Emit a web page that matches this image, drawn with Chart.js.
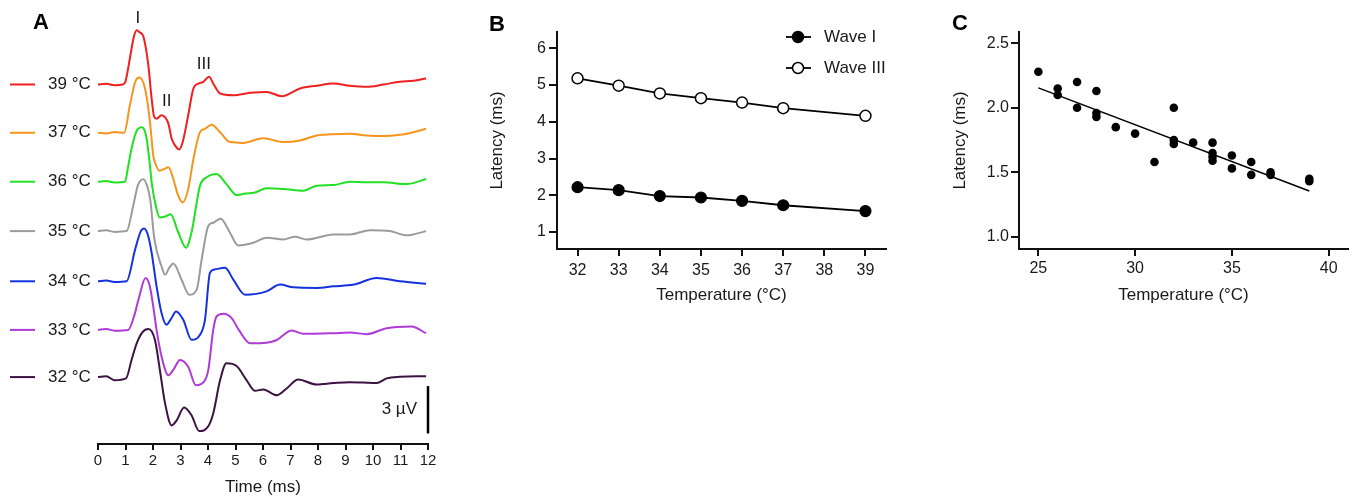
<!DOCTYPE html>
<html><head><meta charset="utf-8">
<script src="https://cdn.jsdelivr.net/npm/chart.js@4.4.1/dist/chart.umd.min.js"></script>
<style>
html,body{margin:0;padding:0;background:#fff;}
#wrap{position:relative;width:1355px;height:502px;overflow:hidden;background:#fff;}
canvas{position:absolute;top:0;}
</style></head><body>
<div id="wrap">
<canvas id="cA" width="450" height="502" style="left:0px"></canvas>
<canvas id="cB" width="440" height="310" style="left:480px"></canvas>
<canvas id="cC" width="415" height="310" style="left:940px"></canvas>
</div>
<script>
// ---------------- Panel A data (ABR traces, µV relative to own baseline) ----------------
const traceTemps = ['39 °C','37 °C','36 °C','35 °C','34 °C','33 °C','32 °C'];
const traceOffsets = [18.54, 15.48, 12.38, 9.25, 6.07, 2.99, 0]; // vertical stacking (µV)
const timeTicks = [0,1,2,3,4,5,6,7,8,9,10,11,12];

const t39 = [0,0.3,0.6,0.9,1.0,1.16,1.3,1.41,1.52,1.65,1.83,1.95,2.04,2.13,2.31,2.45,2.56,2.68,2.8,2.95,3.08,3.28,3.47,3.65,3.83,4.04,4.19,4.44,4.92,5.53,6.13,6.68,7.35,7.95,8.56,9.16,9.77,10.38,10.98,11.47,11.93];
const v39 = [0,0.05,-0.05,0,0.2,1.66,3.0,3.44,3.3,3.04,1.23,-0.89,-2.04,-2.17,-1.95,-2.1,-2.48,-3.44,-3.86,-4.12,-3.65,-1.95,-0.25,0.06,0.17,0.49,0.06,-0.57,-0.68,-0.53,-0.47,-0.74,-0.25,-0.08,0.06,-0.08,-0.15,0,0.17,0.23,0.38];

const t37 = [0,0.3,0.6,0.95,1.16,1.35,1.5,1.71,1.89,2.01,2.07,2.23,2.4,2.56,2.74,2.9,3.08,3.28,3.47,3.71,3.89,4.13,4.44,4.8,5.28,6.01,6.74,7.35,7.95,8.5,9.16,9.77,10.38,10.98,11.47,11.93];
const v37 = [0,-0.05,0.05,0,1.74,3.2,3.5,2.8,0.68,-1.45,-1.87,-2.4,-2.3,-2.19,-2.93,-3.9,-4.42,-3.57,-1.66,0.04,0.25,0.51,0.04,-0.59,-0.64,-0.34,-0.59,-0.49,-0.17,-0.1,-0.06,-0.17,-0.21,-0.13,0.04,0.25];

const t36 = [0,0.3,0.6,0.98,1.1,1.22,1.4,1.59,1.75,1.89,1.95,2.13,2.25,2.45,2.64,2.92,3.2,3.4,3.71,3.95,4.31,4.67,5.04,5.35,5.71,6.13,6.74,7.47,7.95,8.56,9.16,9.77,10.38,11.22,11.93];
const v36 = [0,0.05,-0.05,0,1.0,2.1,3.2,3.45,2.9,1.02,-0.04,-1.74,-2.27,-2.2,-2.06,-3.22,-4.18,-3.22,-0.25,0.28,0.49,-0.15,-0.85,-0.75,-0.68,-0.42,-0.46,-0.57,-0.25,-0.21,0,-0.04,-0.04,-0.15,0.17];

const t35 = [0,0.3,0.6,1.04,1.28,1.45,1.65,1.78,1.9,2.05,2.31,2.44,2.6,2.74,3.04,3.32,3.59,3.77,4.01,4.19,4.46,4.8,5.1,5.65,6.13,6.74,7.16,7.59,8.56,9.16,9.89,10.62,11.22,11.93];
const v35 = [0,0.05,-0.05,0,1.6,2.9,3.29,2.9,2.0,-0.5,-2.23,-2.76,-2.3,-2.06,-3.08,-4.03,-3.71,-1.8,0.32,0.53,0.79,-0.1,-0.91,-0.74,-0.42,-0.53,-0.36,-0.53,-0.21,-0.21,0.06,0,-0.27,0];

const t34 = [0,0.3,0.6,1.04,1.35,1.55,1.68,1.82,1.95,2.13,2.31,2.49,2.65,2.84,3.1,3.4,3.71,3.89,4.07,4.25,4.62,4.92,5.35,6.13,6.62,7.1,7.95,8.56,9.3,10.13,10.98,11.93];
const v34 = [0,0.05,-0.05,0,2.02,3.15,3.34,2.9,1.81,-0.32,-2.01,-2.76,-2.4,-1.91,-2.44,-3.71,-3.39,-2.44,0.53,0.75,0.85,0.11,-0.85,-0.64,-0.21,-0.38,-0.42,-0.32,-0.21,0.21,0,-0.15];

const t33 = [0,0.3,0.6,1.1,1.3,1.47,1.73,1.88,2.01,2.13,2.3,2.56,2.75,2.98,3.28,3.56,3.85,4.01,4.19,4.31,4.56,4.86,5.12,5.53,6.13,6.5,7.04,7.47,8.56,9.16,9.77,10.5,11.4,11.93];
const v33 = [0,0.05,-0.05,0,0.8,1.91,3.29,2.8,1.48,0,-1.6,-2.87,-2.5,-1.91,-2.34,-3.5,-3.29,-2.55,0,0.85,1.02,0.75,0,-0.85,-0.81,-0.64,-0.04,-0.25,-0.21,-0.17,-0.27,0.11,0.21,-0.21];

const t32 = [0,0.3,0.6,1.02,1.22,1.41,1.62,1.83,2.07,2.25,2.44,2.68,2.86,3.13,3.4,3.68,4.01,4.19,4.44,4.67,5.04,5.4,5.71,6.01,6.5,6.86,7.28,7.95,8.56,9.16,10.13,10.5,10.98,11.93];
const v32 = [0,0.05,-0.2,-0.08,1.08,2.15,2.85,3.04,2.36,0.45,-1.68,-3.06,-2.74,-1.93,-2.42,-3.42,-3.12,-2.31,-0.19,0.87,0.7,-0.19,-0.87,-0.78,-1.15,-0.72,-0.15,-0.47,-0.38,-0.32,-0.38,-0.08,0.02,0.06];

const waveLabelText = ['I','II','III'];
const waveLabelTime = [1.45, 2.5, 3.85];
const waveLabelLevel = [22.72, 17.45, 19.84];
const scaleBarUV = 3;
const scaleBarTop = -0.57;

// ---------------- Panel B data ----------------
const bTemps = [32,33,34,35,36,37,39];
const waveI = [2.22,2.14,1.98,1.94,1.85,1.73,1.57];
const waveIII = [5.18,4.98,4.77,4.64,4.52,4.37,4.16];
const bXTicks = [32,33,34,35,36,37,38,39];
const bYTicks = [1,2,3,4,5,6];

// ---------------- Panel C data ----------------
const cTemp = [25,26,26,27,27,28,28,28,29,30,31,32,32,32,33,34,34,34,34,35,35,36,36,37,37,39,39];
const cLatency = [2.28,2.15,2.10,2.20,2.00,2.13,1.96,1.93,1.85,1.80,1.58,2.00,1.75,1.72,1.73,1.73,1.65,1.62,1.59,1.63,1.53,1.58,1.48,1.50,1.48,1.45,1.43];
const fitTemp = [25, 39];
const fitLatency = [2.155, 1.355];
const cXTicks = [25,30,35,40];
const cYTicks = [1.0,1.5,2.0,2.5];

// ---------------- styles ----------------
const FAM = '"Liberation Sans", Arial, Helvetica, sans-serif';
const INK = '#1a1a1a';
const traceColors = ['#ee2020','#f7941d','#22e022','#9b9b9b','#1432e0','#b03ad8','#3c1242'];
const traceT = [t39,t37,t36,t35,t34,t33,t32];
const traceV = [v39,v37,v36,v35,v34,v33,v32];
Chart.defaults.font.family = FAM;
Chart.defaults.color = INK;

function fixedTicks(arr){ return s => { s.ticks = arr.map(v => ({value:v})); }; }
function letter(ctx, txt, x, y){
  ctx.save(); ctx.fillStyle='#000'; ctx.font='bold 22px '+FAM;
  ctx.textAlign='center'; ctx.textBaseline='middle'; ctx.fillText(txt,x,y); ctx.restore();
}

// ---------------- Chart A ----------------
const aPlugin = {
  id:'aLabels',
  afterDraw(chart){
    const {ctx, scales:{x,y}} = chart;
    ctx.save();
    ctx.font = '17px '+FAM; ctx.textBaseline='middle';
    traceTemps.forEach((lab,i)=>{
      const py = y.getPixelForValue(traceOffsets[i]);
      ctx.strokeStyle = traceColors[i]; ctx.lineWidth = 2;
      ctx.beginPath(); ctx.moveTo(10,py); ctx.lineTo(35,py); ctx.stroke();
      ctx.fillStyle = INK; ctx.textAlign='left';
      ctx.fillText(lab, 48, py);
    });
    ctx.textAlign='center';
    waveLabelText.forEach((w,i)=>{
      ctx.fillText(w, x.getPixelForValue(waveLabelTime[i]), y.getPixelForValue(waveLabelLevel[i]));
    });
    // scale bar
    const bx = x.getPixelForValue(12);
    const y1 = y.getPixelForValue(scaleBarTop), y2 = y.getPixelForValue(scaleBarTop - scaleBarUV);
    ctx.strokeStyle='#000'; ctx.lineWidth=2.5;
    ctx.beginPath(); ctx.moveTo(bx,y1); ctx.lineTo(bx,y2); ctx.stroke();
    ctx.textAlign='right'; ctx.fillStyle=INK;
    ctx.fillText(scaleBarUV+' µV', bx-11, (y1+y2)/2);
    ctx.restore();
    letter(ctx,'A',41,23);
  }
};

new Chart(document.getElementById('cA'), {
  type:'line',
  data:{ datasets: traceTemps.map((lab,i)=>({
    label: lab,
    data: traceT[i].map((t,k)=>({x:t, y: traceV[i][k] + traceOffsets[i]})),
    borderColor: traceColors[i], borderWidth: 2, pointRadius: 0, fill:false,
    cubicInterpolationMode: 'monotone'
  })).reverse() },
  options:{
    responsive:false, animation:false, events:[],
    layout:{padding:{left:98,right:22,top:10,bottom:0}},
    plugins:{legend:{display:false}, tooltip:{enabled:false}},
    scales:{
      x:{ type:'linear', min:0, max:12, afterBuildTicks: fixedTicks(timeTicks),
        border:{display:true,color:'#111',width:2},
        grid:{drawOnChartArea:false, drawTicks:true, tickLength:6, color:'#111', lineWidth:2},
        ticks:{color:INK, font:{size:15}, padding:2, maxRotation:0, autoSkip:false},
        title:{display:true, text:'Time (ms)', color:INK, font:{size:17}, padding:{top:0,bottom:4}},
        afterFit: s => { s.height = 58; } },
      y:{ type:'linear', display:false, min:-4.24, max:23.26 }
    }
  },
  plugins:[aPlugin]
});

// ---------------- Chart B ----------------
const bPlugin = {
  id:'bLegend',
  afterDraw(chart){
    const ctx = chart.ctx;
    ctx.save();
    const rows = [{lab:'Wave I', fill:'#000', y:37},{lab:'Wave III', fill:'#fff', y:68}];
    rows.forEach(r=>{
      ctx.strokeStyle='#000'; ctx.lineWidth=1.8;
      ctx.beginPath(); ctx.moveTo(306,r.y); ctx.lineTo(331,r.y); ctx.stroke();
      ctx.beginPath(); ctx.arc(318, r.y, 5.5, 0, Math.PI*2);
      ctx.fillStyle=r.fill; ctx.fill(); ctx.lineWidth=1.5; ctx.stroke();
      ctx.fillStyle=INK; ctx.font='17px '+FAM; ctx.textAlign='left'; ctx.textBaseline='middle';
      ctx.fillText(r.lab, 344, r.y);
    });
    ctx.restore();
    letter(ctx,'B',17,25);
  }
};

new Chart(document.getElementById('cB'), {
  type:'line',
  data:{ datasets:[
    { label:'Wave I', data: bTemps.map((t,i)=>({x:t,y:waveI[i]})), borderColor:'#000', borderWidth:1.8,
      pointRadius:5.5, pointBackgroundColor:'#000', pointBorderColor:'#000', pointBorderWidth:1.2, tension:0 },
    { label:'Wave III', data: bTemps.map((t,i)=>({x:t,y:waveIII[i]})), borderColor:'#000', borderWidth:1.8,
      pointRadius:5.5, pointBackgroundColor:'#fff', pointBorderColor:'#000', pointBorderWidth:1.5, tension:0 }
  ]},
  options:{
    responsive:false, animation:false, events:[],
    layout:{padding:{left:0,right:34,top:32,bottom:0}},
    plugins:{legend:{display:false}, tooltip:{enabled:false}},
    scales:{
      x:{ type:'linear', min:31.5, max:39.5, afterBuildTicks: fixedTicks(bXTicks),
        border:{display:true,color:'#111',width:2},
        grid:{drawOnChartArea:false, tickLength:7, color:'#111', lineWidth:2},
        ticks:{color:INK, font:{size:16}, padding:5, maxRotation:0, autoSkip:false},
        title:{display:true, text:'Temperature (°C)', color:INK, font:{size:17}, padding:{top:0,bottom:4.8}},
        afterFit: s => { s.height = 61; } },
      y:{ type:'linear', min:0.54, max:6.44, afterBuildTicks: fixedTicks(bYTicks),
        border:{display:true,color:'#111',width:2},
        grid:{drawOnChartArea:false, tickLength:8, color:'#111', lineWidth:2},
        ticks:{color:INK, font:{size:16}, padding:3},
        title:{display:true, text:'Latency (ms)', color:INK, font:{size:17}, padding:{top:7,bottom:0}},
        afterFit: s => { s.width = 77; } }
    }
  },
  plugins:[bPlugin]
});

// ---------------- Chart C ----------------
const cPlugin = { id:'cLetter', afterDraw(chart){ letter(chart.ctx,'C',20,24); } };

new Chart(document.getElementById('cC'), {
  type:'scatter',
  data:{ datasets:[
    { label:'Fit', type:'line', data: fitTemp.map((t,i)=>({x:t,y:fitLatency[i]})), borderColor:'#000',
      borderWidth:1.5, pointRadius:0, tension:0 },
    { label:'Wave I latency', data: cTemp.map((t,i)=>({x:t,y:cLatency[i]})), pointRadius:4.3,
      pointBackgroundColor:'#000', pointBorderColor:'#000', pointBorderWidth:0 }
  ]},
  options:{
    responsive:false, animation:false, events:[],
    layout:{padding:{left:0,right:7,top:32,bottom:0}},
    plugins:{legend:{display:false}, tooltip:{enabled:false}},
    scales:{
      x:{ type:'linear', min:24, max:41, afterBuildTicks: fixedTicks(cXTicks),
        border:{display:true,color:'#111',width:2},
        grid:{drawOnChartArea:false, tickLength:7, color:'#111', lineWidth:2},
        ticks:{color:INK, font:{size:16}, padding:3, maxRotation:0, autoSkip:false},
        title:{display:true, text:'Temperature (°C)', color:INK, font:{size:17}, padding:{top:0,bottom:4.8}},
        afterFit: s => { s.height = 61; } },
      y:{ type:'linear', min:0.905, max:2.588, afterBuildTicks: fixedTicks(cYTicks),
        border:{display:true,color:'#111',width:2},
        grid:{drawOnChartArea:false, tickLength:8, color:'#111', lineWidth:2},
        ticks:{color:INK, font:{size:16}, padding:2, callback: v => v.toFixed(1)},
        title:{display:true, text:'Latency (ms)', color:INK, font:{size:17}, padding:{top:10.5,bottom:0}},
        afterFit: s => { s.width = 79; } }
    }
  },
  plugins:[cPlugin]
});
</script>
</body></html>
